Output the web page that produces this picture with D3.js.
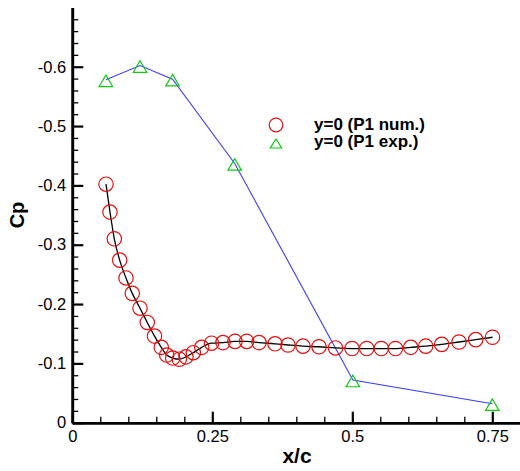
<!DOCTYPE html>
<html>
<head>
<meta charset="utf-8">
<script src="https://cdn.jsdelivr.net/npm/d3@7"></script>
<style>
  html, body { margin: 0; padding: 0; background: #fff; }
  svg { display: block; }
  text { font-family: "Liberation Sans", Arial, Helvetica, sans-serif; fill: #000; }
</style>
</head>
<body>
<svg id="chart" width="520" height="471"></svg>
<script>
// Pressure coefficient along y=0: numerical solution (circles + line) and experiment (triangles)
const numX = [0.0602, 0.0673, 0.0750, 0.0846, 0.0959, 0.1071, 0.1209, 0.1339, 0.1468, 0.1589,
              0.1686, 0.1793, 0.1911, 0.2030, 0.2161, 0.2311, 0.2486, 0.2691, 0.2905, 0.3114,
              0.3334, 0.3620, 0.3852, 0.4120, 0.4405, 0.4700, 0.4995, 0.5257, 0.5518, 0.5771,
              0.6043, 0.6311, 0.6596, 0.6905, 0.7204, 0.7504];
const numCp = [-0.402, -0.355, -0.310, -0.274, -0.244, -0.218, -0.193, -0.169, -0.146, -0.127,
               -0.114, -0.109, -0.107, -0.111, -0.118, -0.127, -0.134, -0.135, -0.137, -0.137,
               -0.135, -0.133, -0.131, -0.129, -0.128, -0.126, -0.125, -0.125, -0.125, -0.125,
               -0.127, -0.129, -0.132, -0.136, -0.140, -0.144];

const expX = [0.060, 0.121, 0.179, 0.290, 0.501, 0.750];
const expCp = [-0.578, -0.602, -0.579, -0.437, -0.072, -0.032];

const xMajorTicks = [0, 0.25, 0.5, 0.75];
const xTickLabels = ["0", "0.25", "0.5", "0.75"];
const yMajorTicks = [0, -0.1, -0.2, -0.3, -0.4, -0.5, -0.6];
const yTickLabels = ["0", "-0.1", "-0.2", "-0.3", "-0.4", "-0.5", "-0.6"];

const legendLabels = ["y=0 (P1 num.)", "y=0 (P1 exp.)"];

const svg = d3.select("#chart");

const x = d3.scaleLinear().domain([0, 0.8]).range([72.3, 520.3]);
const y = d3.scaleLinear().domain([0, -0.7]).range([422.7, 7.4]);

const xMinor = d3.range(0, 0.8001, 0.05).filter(v => !xMajorTicks.some(m => Math.abs(m - v) < 1e-6));
const yMinor = d3.range(0, -0.6901, -0.02).filter(v => !yMajorTicks.some(m => Math.abs(m - v) < 1e-6));

const red = "#e01010", green = "#10c810", blue = "#3c3cff";

// --- axes ---
const xAxisG = svg.append("g").attr("transform", `translate(0,${y(0)})`);
xAxisG.call(d3.axisBottom(x).tickValues(xMinor).tickSizeInner(-6).tickSizeOuter(0).tickFormat(""));
xAxisG.call(g => g.selectAll(".tick line").attr("stroke-width", 1.3));
const xAxisMajor = svg.append("g").attr("transform", `translate(0,${y(0)})`);
xAxisMajor.call(d3.axisBottom(x).tickValues(xMajorTicks).tickSizeInner(-11).tickSizeOuter(0)
  .tickPadding(8).tickFormat((d, i) => xTickLabels[i]));
xAxisMajor.selectAll(".tick line").attr("stroke-width", 2.2);
xAxisMajor.selectAll(".tick text").attr("font-size", 16.5).attr("font-family", "Liberation Sans, Arial, sans-serif");
[xAxisG, xAxisMajor].forEach(g => g.select(".domain").attr("stroke-width", 2.4));

const yAxisG = svg.append("g").attr("transform", `translate(${x(0)},0)`);
yAxisG.call(d3.axisLeft(y).tickValues(yMinor).tickSizeInner(-6).tickSizeOuter(0).tickFormat(""));
yAxisG.selectAll(".tick line").attr("stroke-width", 1.3);
const yAxisMajor = svg.append("g").attr("transform", `translate(${x(0)},0)`);
yAxisMajor.call(d3.axisLeft(y).tickValues(yMajorTicks).tickSizeInner(-11).tickSizeOuter(0)
  .tickPadding(6).tickFormat((d, i) => yTickLabels[i]));
yAxisMajor.selectAll(".tick line").attr("stroke-width", 2.2);
yAxisMajor.selectAll(".tick text").attr("font-size", 16.5).attr("font-family", "Liberation Sans, Arial, sans-serif");
[yAxisG, yAxisMajor].forEach(g => g.select(".domain").attr("stroke-width", 2.6));

// --- axis titles ---
svg.append("text")
  .attr("x", 297).attr("y", 463)
  .attr("text-anchor", "middle")
  .attr("font-size", 21).attr("font-weight", "bold")
  .text("x/c");

svg.append("text")
  .attr("transform", "translate(24,215) rotate(-90)")
  .attr("text-anchor", "middle")
  .attr("font-size", 20).attr("font-weight", "bold")
  .text("Cp");

// --- data ---
const numData = numX.map((v, i) => ({ x: v, cp: numCp[i] }));
const expData = expX.map((v, i) => ({ x: v, cp: expCp[i] }));

const plot = svg.append("g");

plot.append("path")
  .datum(expData)
  .attr("fill", "none").attr("stroke", blue).attr("stroke-width", 1.1)
  .attr("d", d3.line().x(d => x(d.x)).y(d => y(d.cp)));

plot.append("path")
  .datum(numData)
  .attr("fill", "none").attr("stroke", "#000").attr("stroke-width", 1.3)
  .attr("d", d3.line().curve(d3.curveMonotoneX).x(d => x(d.x)).y(d => y(d.cp)));

plot.selectAll("circle.num")
  .data(numData).enter().append("circle")
  .attr("class", "num")
  .attr("cx", d => x(d.x)).attr("cy", d => y(d.cp)).attr("r", 7.2)
  .attr("fill", "none").attr("stroke", red).attr("stroke-width", 1.2);

const tri = (cx, cy, w, h) =>
  `M${cx - w / 2},${cy + h / 2}L${cx + w / 2},${cy + h / 2}L${cx},${cy - h / 2}Z`;

plot.selectAll("path.exp")
  .data(expData).enter().append("path")
  .attr("class", "exp")
  .attr("d", d => tri(x(d.x), y(d.cp) + 1, 13.5, 11.5))
  .attr("fill", "none").attr("stroke", green).attr("stroke-width", 1.2);

// --- legend ---
const legend = svg.append("g");
legend.append("circle").attr("cx", 276).attr("cy", 125).attr("r", 6.8)
  .attr("fill", "none").attr("stroke", red).attr("stroke-width", 1.2);
legend.append("path").attr("d", tri(276, 143.5, 11.5, 9))
  .attr("fill", "none").attr("stroke", green).attr("stroke-width", 1.2);
legend.selectAll("text.lg")
  .data(legendLabels).enter().append("text")
  .attr("class", "lg")
  .attr("x", 314).attr("y", (d, i) => 130 + i * 17.3)
  .attr("font-size", 17).attr("font-weight", "bold")
  .text(d => d);
</script>
</body>
</html>
